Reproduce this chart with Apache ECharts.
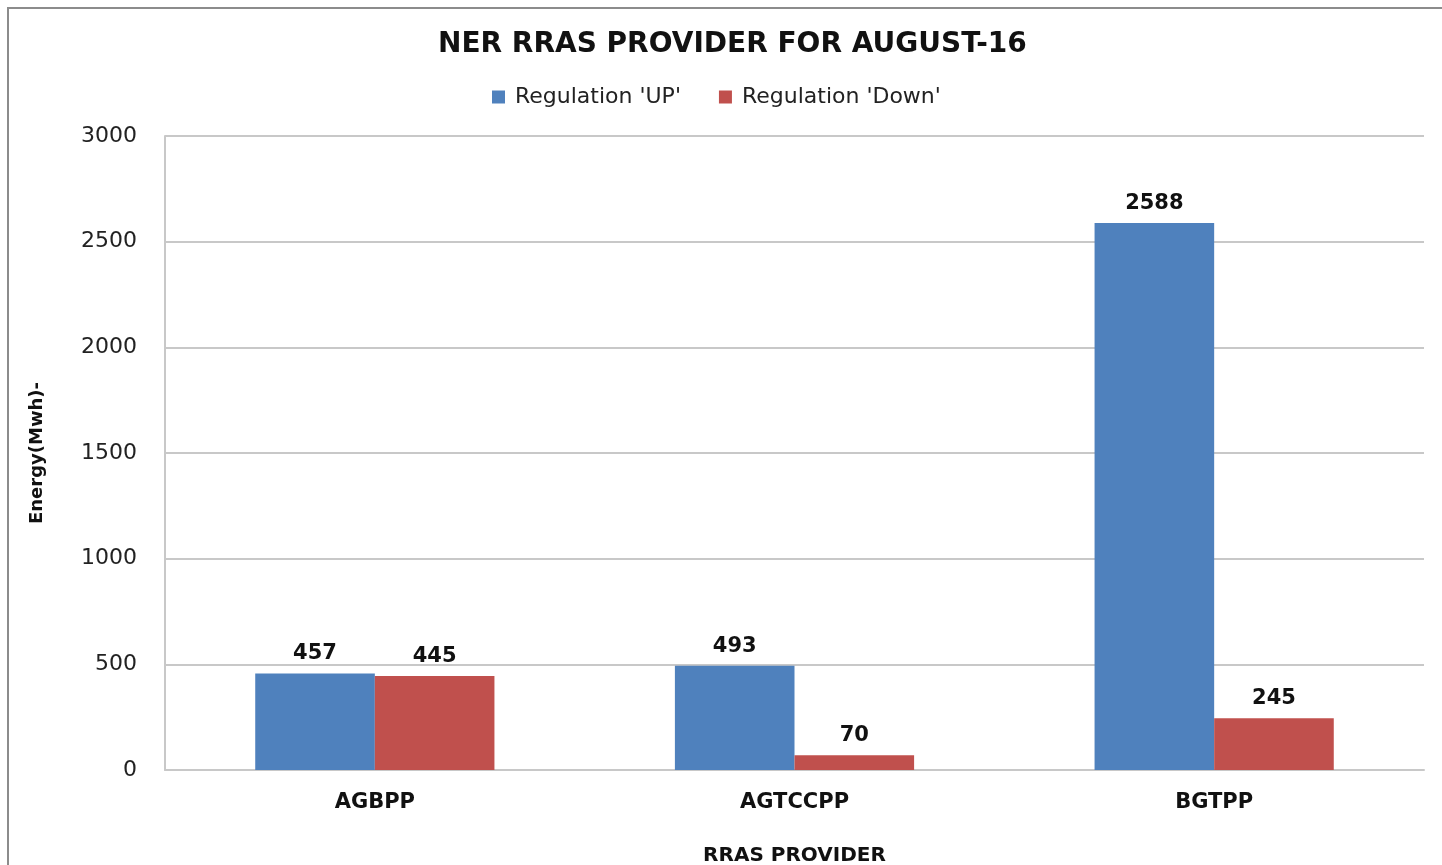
<!DOCTYPE html>
<html>
<head>
<meta charset="utf-8">
<script src="https://cdn.jsdelivr.net/npm/echarts@6/dist/echarts.min.js"></script>
<style>
  html, body { margin: 0; padding: 0; background: #fff; }
  #chart { width: 1442px; height: 865px; }
</style>
</head>
<body>
<div id="chart"></div>
<script>
let providers = ['AGBPP', 'AGTCCPP', 'BGTPP'];
let regUp = [457, 493, 2588];
let regDown = [445, 70, 245];
let seriesNames = ["Regulation 'UP'", "Regulation 'Down'"];

let font = "'DejaVu Sans', 'Noto Sans', sans-serif";
let labelStyle = {
    show: true,
    position: 'top',
    distance: 9,
    color: '#111',
    fontSize: 21,
    fontWeight: 'bold',
    fontFamily: font
};

let myChart = echarts.init(document.getElementById('chart'));
let option = {
    backgroundColor: '#fff',
    animation: false,
    graphic: [{
        type: 'rect',
        shape: { x: 8, y: 8, width: 1460, height: 880 },
        style: { fill: 'none', stroke: '#8c8c8c', lineWidth: 2 },
        silent: true
    }],
    title: {
        text: 'NER RRAS PROVIDER FOR AUGUST-16',
        left: 433,
        top: 26,
        textStyle: { fontSize: 28, fontWeight: 'bold', color: '#111', fontFamily: font }
    },
    legend: {
        top: 81,
        left: 487,
        itemWidth: 13,
        itemHeight: 13,
        itemGap: 38,
        icon: 'rect',
        textStyle: { fontSize: 22, color: '#222', fontFamily: font, padding: [0, 0, 0, 5] },
        data: seriesNames
    },
    grid: { left: 165, right: 18, top: 136, bottom: 95, outerBoundsMode: 'none' },
    xAxis: {
        type: 'category',
        data: providers,
        name: 'RRAS PROVIDER',
        nameLocation: 'middle',
        nameGap: 76,
        nameTextStyle: { fontSize: 20, fontWeight: 'bold', color: '#111', fontFamily: font },
        axisTick: { show: false },
        axisLine: { lineStyle: { color: '#c8c8c8', width: 2 } },
        axisLabel: { fontSize: 21, fontWeight: 'bold', color: '#111', margin: 22, fontFamily: font }
    },
    yAxis: {
        type: 'value',
        min: 0,
        max: 3000,
        interval: 500,
        name: 'Energy(Mwh)-',
        nameLocation: 'middle',
        nameGap: 119,
        nameTextStyle: { fontSize: 18, fontWeight: 'bold', color: '#111', fontFamily: font },
        axisLine: { show: true, lineStyle: { color: '#c8c8c8', width: 2 } },
        axisTick: { show: false },
        axisLabel: {
            fontSize: 22, color: '#222', margin: 28, fontFamily: font,
            formatter: function (v) { return String(v); }
        },
        splitLine: { lineStyle: { color: '#c8c8c8', width: 2 } }
    },
    series: [{
        name: seriesNames[0],
        type: 'bar',
        data: regUp,
        barGap: '0%',
        barCategoryGap: '43%',
        itemStyle: { color: '#4F81BD' },
        label: labelStyle
    }, {
        name: seriesNames[1],
        type: 'bar',
        data: regDown,
        barGap: '0%',
        barCategoryGap: '43%',
        itemStyle: { color: '#C0504D' },
        label: labelStyle
    }]
};
myChart.setOption(option);
</script>
</body>
</html>
